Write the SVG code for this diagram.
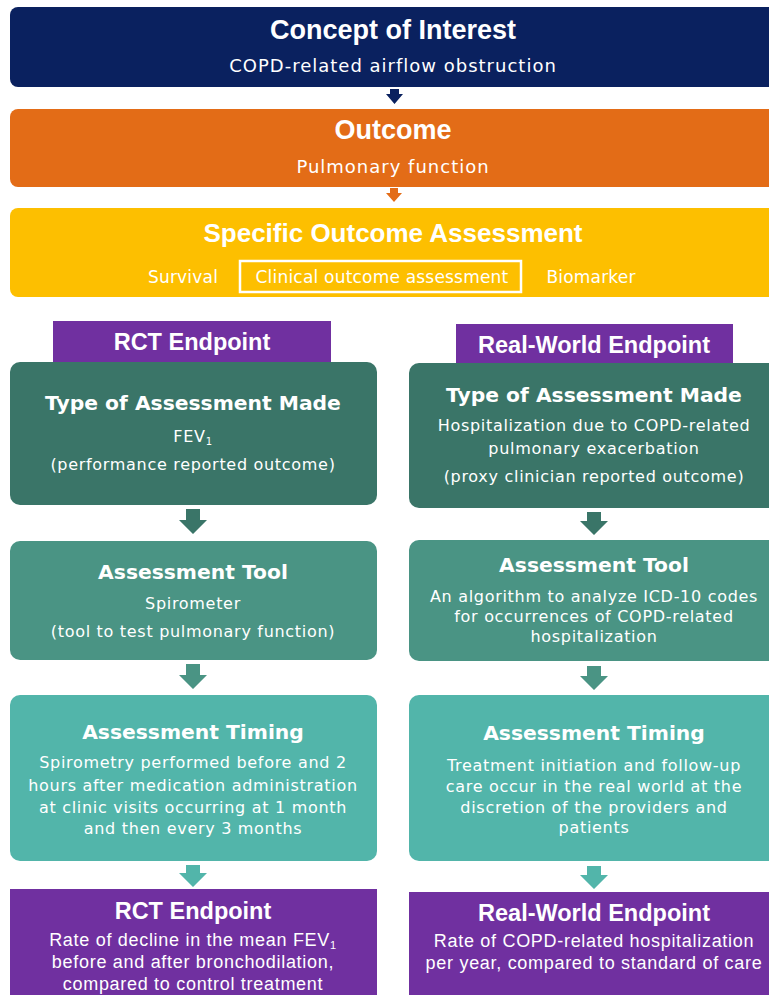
<svg xmlns="http://www.w3.org/2000/svg" width="769" height="995" viewBox="0 0 769 995">
  <style>
    .h { font-family: "Liberation Sans", Arial, sans-serif; font-weight: bold; fill: #ffffff; text-anchor: middle; }
    .hd { font-family: "DejaVu Sans", Verdana, sans-serif; font-weight: bold; fill: #ffffff; text-anchor: middle; font-size: 20.3px; }
    .b { font-family: "DejaVu Sans", Verdana, sans-serif; fill: #ffffff; text-anchor: middle; font-size: 16px; letter-spacing: 0.7px; }
    .s { font-family: "DejaVu Sans", Verdana, sans-serif; fill: #ffffff; text-anchor: middle; font-size: 18px; letter-spacing: 1px; }
    .o { font-family: "DejaVu Sans", Verdana, sans-serif; fill: #ffffff; text-anchor: middle; font-size: 17px; letter-spacing: 0.2px; }
    .bl { font-family: "Liberation Sans", Arial, sans-serif; fill: #ffffff; text-anchor: middle; font-size: 18px; letter-spacing: 0.7px; }
    .navy { fill: #0a215f; }
    .orange { fill: #e36c17; }
    .yellow { fill: #fdbf00; }
    .purple { fill: #7030a0; }
    .t1 { fill: #3a7568; }
    .t2 { fill: #4a9484; }
    .t3 { fill: #52b5aa; }
  </style>

  <rect width="769" height="995" fill="#ffffff"/>

  <!-- Top tier -->
  <g id="concept">
    <rect class="navy" x="10" y="7" width="775" height="80" rx="8"/>
    <text class="h" x="393" y="39" font-size="27">Concept of Interest</text>
    <text class="s" x="393" y="72">COPD-related airflow obstruction</text>
  </g>

  <g id="outcome">
    <rect class="orange" x="10" y="109" width="775" height="78" rx="8"/>
    <text class="h" x="393" y="139" font-size="27">Outcome</text>
    <text class="s" x="393" y="173">Pulmonary  function</text>
  </g>

  <g id="specific">
    <rect class="yellow" x="10" y="208" width="775" height="89" rx="8"/>
    <text class="h" x="393" y="242" font-size="26">Specific Outcome Assessment</text>
    <text class="o" x="183" y="283">Survival</text>
    <rect x="240" y="261" width="281" height="31" fill="none" stroke="#ffffff" stroke-width="2.5"/>
    <text class="o" x="382" y="283">Clinical outcome assessment</text>
    <text class="o" x="591" y="283">Biomarker</text>
  </g>

  <!-- Endpoint column labels -->
  <g id="rct-label">
    <rect class="purple" x="53" y="321" width="278" height="41"/>
    <text class="h" x="192" y="350" font-size="23.5">RCT Endpoint</text>
  </g>
  <g id="rw-label">
    <rect class="purple" x="456" y="324" width="277" height="39"/>
    <text class="h" x="594" y="353" font-size="23.5">Real-World Endpoint</text>
  </g>

  <!-- RCT column -->
  <g id="rct-type">
    <rect class="t1" x="10" y="362" width="367" height="143" rx="10"/>
    <text class="hd" x="193" y="410">Type of Assessment Made</text>
    <text class="b" x="193" y="442">FEV<tspan font-size="10" dy="3">1</tspan></text>
    <text class="b" x="193" y="470">(performance reported outcome)</text>
  </g>
  <g id="rct-tool">
    <rect class="t2" x="10" y="541" width="367" height="119" rx="10"/>
    <text class="hd" x="193" y="579">Assessment Tool</text>
    <text class="b" x="193" y="609">Spirometer</text>
    <text class="b" x="193" y="637">(tool to test pulmonary function)</text>
  </g>
  <g id="rct-timing">
    <rect class="t3" x="10" y="695" width="367" height="166" rx="10"/>
    <text class="hd" x="193" y="739">Assessment Timing</text>
    <text class="b" x="193" y="768">Spirometry performed before and 2</text>
    <text class="b" x="193" y="791">hours after medication administration</text>
    <text class="b" x="193" y="813">at clinic visits occurring at 1 month</text>
    <text class="b" x="193" y="834">and then every 3 months</text>
  </g>
  <g id="rct-endpoint">
    <rect class="purple" x="10" y="889" width="367" height="110"/>
    <text class="h" x="193" y="919" font-size="23.5">RCT Endpoint</text>
    <text class="bl" x="193" y="946">Rate of decline in the mean FEV<tspan font-size="11" dy="3">1</tspan></text>
    <text class="bl" x="193" y="968">before and after bronchodilation,</text>
    <text class="bl" x="193" y="990">compared to control treatment</text>
  </g>

  <!-- Real-world column -->
  <g id="rw-type">
    <rect class="t1" x="409" y="363" width="375" height="145" rx="10"/>
    <text class="hd" x="594" y="402">Type of Assessment Made</text>
    <text class="b" x="594" y="431">Hospitalization due to COPD-related</text>
    <text class="b" x="594" y="454">pulmonary exacerbation</text>
    <text class="b" x="594" y="482">(proxy clinician reported outcome)</text>
  </g>
  <g id="rw-tool">
    <rect class="t2" x="409" y="540" width="375" height="121" rx="10"/>
    <text class="hd" x="594" y="572">Assessment Tool</text>
    <text class="b" x="594" y="602">An algorithm to analyze ICD-10 codes</text>
    <text class="b" x="594" y="622">for occurrences of COPD-related</text>
    <text class="b" x="594" y="642">hospitalization</text>
  </g>
  <g id="rw-timing">
    <rect class="t3" x="409" y="695" width="375" height="166" rx="10"/>
    <text class="hd" x="594" y="740">Assessment Timing</text>
    <text class="b" x="594" y="771">Treatment initiation and follow-up</text>
    <text class="b" x="594" y="792">care occur in the real world at the</text>
    <text class="b" x="594" y="813">discretion of the providers and</text>
    <text class="b" x="594" y="833">patients</text>
  </g>
  <g id="rw-endpoint">
    <rect class="purple" x="409" y="892" width="375" height="107"/>
    <text class="h" x="594" y="921" font-size="23.5">Real-World Endpoint</text>
    <text class="bl" x="594" y="947">Rate of COPD-related hospitalization</text>
    <text class="bl" x="594" y="969">per year,  compared to standard of care</text>
  </g>

  <!-- Block-arrow connectors -->
  <g id="connectors">
    <polygon class="navy" points="390,89 399,89 399,94 403,94 394.5,104 386,94 390,94"/>
    <polygon class="orange" points="390,188 398,188 398,193 402,193 394,202 386,193 390,193"/>
    <polygon class="t1" points="186,509 200,509 200,520 207,520 193,534 179,520 186,520"/>
    <polygon class="t2" points="186,664 200,664 200,675 207,675 193,689 179,675 186,675"/>
    <polygon class="t3" points="186,865 200,865 200,873 207,873 193,887 179,873 186,873"/>
    <polygon class="t1" points="587,512 601,512 601,521 608,521 594,535 580,521 587,521"/>
    <polygon class="t2" points="587,666 601,666 601,676 608,676 594,690 580,676 587,676"/>
    <polygon class="t3" points="587,866 601,866 601,875 608,875 594,889 580,875 587,875"/>
  </g>
</svg>
